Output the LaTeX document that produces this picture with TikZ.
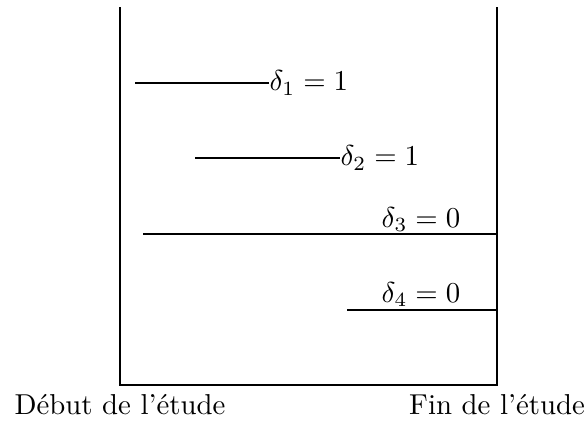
\documentclass[tikz,border=0pt]{standalone}
\begin{document}
\begin{tikzpicture}[x=0.3472pt,y=-0.3472pt,
  seg/.style={line width=0.4pt},
  lab/.style={inner sep=0pt},
  ]
\useasboundingbox (0,0) rectangle (587,420);
\coordinate (tl) at (120,7);
\coordinate (bl) at (120,385);
\coordinate (br) at (497,385);
\coordinate (tr) at (497,7);
\draw[seg] (tl) -- (bl) -- (br) -- (tr);

\coordinate (a1) at (135,83);
\node[lab,anchor=west] (d1) at (269,83) {$\delta_1=1$};
\draw[seg] (a1) -- (d1.west);

\coordinate (a2) at (195,158);
\node[lab,anchor=west] (d2) at (340,158) {$\delta_2=1$};
\draw[seg] (a2) -- (d2.west);

\coordinate (a3) at (143,234);
\coordinate (b3) at (497,234);
\draw[seg] (a3) -- (b3);
\node[lab,anchor=base] (d3) at (421,227) {$\delta_3=0$};

\coordinate (a4) at (347,310);
\coordinate (b4) at (497,310);
\draw[seg] (a4) -- (b4);
\node[lab,anchor=base] (d4) at (421,302) {$\delta_4=0$};

\node[lab,anchor=base] (deb) at (120,414) {Début de l'étude};
\node[lab,anchor=base] (fin) at (497,414) {Fin de l'étude};
\end{tikzpicture}
\end{document}
